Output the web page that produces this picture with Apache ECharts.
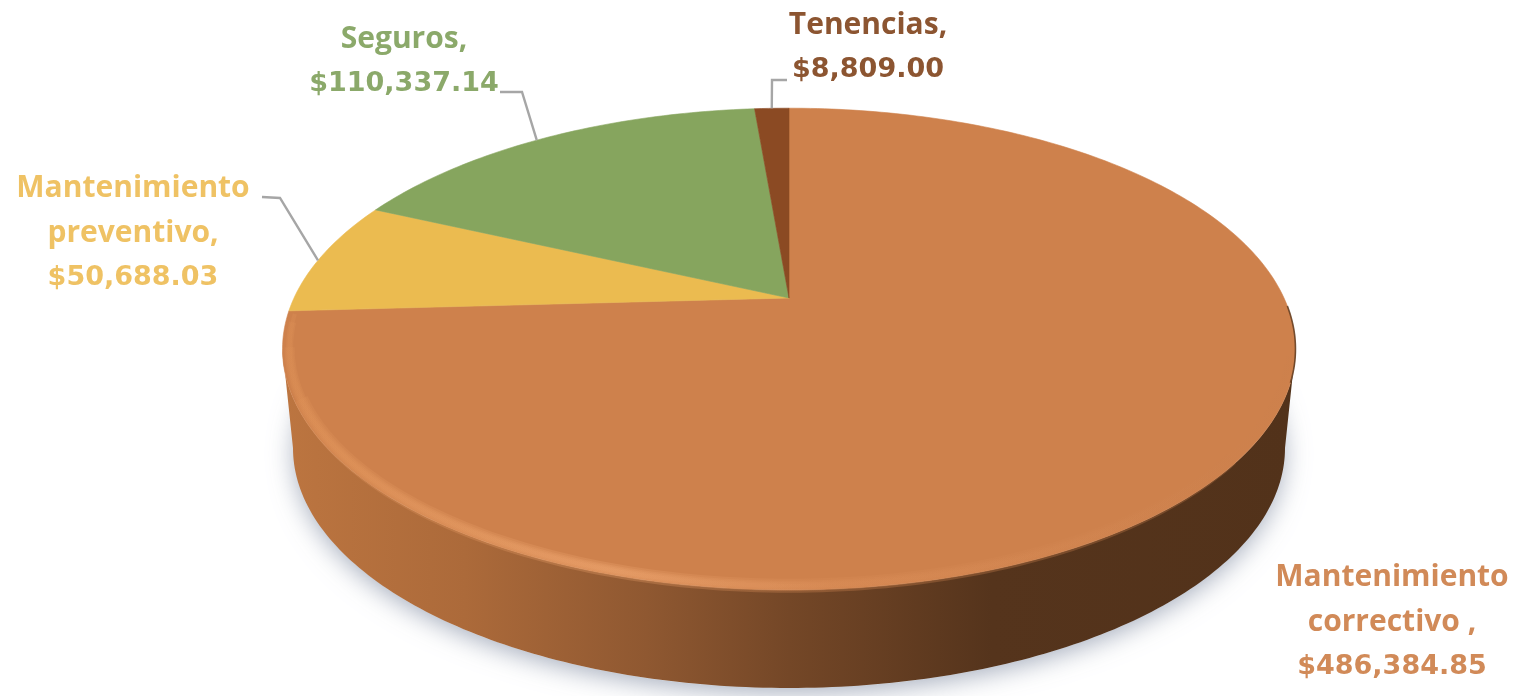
<!DOCTYPE html>
<html>
<head>
<meta charset="utf-8">
<style>
html,body{margin:0;padding:0;background:#fff}
#chart{width:1518px;height:696px;filter:blur(0.7px)}
</style>
<script src="https://cdn.jsdelivr.net/npm/echarts@6/dist/echarts.min.js"></script>
</head>
<body>
<div id="chart"></div>
<script>
// ---- data (clockwise from 12 o'clock) ----
const categories = ['Mantenimiento correctivo', 'Mantenimiento preventivo', 'Seguros', 'Tenencias'];
const amounts = [486384.85, 50688.03, 110337.14, 8809.00];
const labelNames = [
  ['Mantenimiento', 'correctivo ,'],
  ['Mantenimiento', 'preventivo,'],
  ['Seguros,'],
  ['Tenencias,']
];
const labelAmounts = ['$486,384.85', '$50,688.03', '$110,337.14', '$8,809.00'];
const sliceColors = ['#CE814C', '#EBBB50', '#86A55E', '#8B4A23'];
const labelColors = ['#D18A58', '#EFC264', '#8BA96A', '#8C5531'];

// ---- layout of the tilted disc ----
const apex = {x: 789, y: 298};
const persp = {A: 495, B: 230, k: 0.2117};
const lower = {x: 789, y: 448, a: 496, b: 240};
const labelPos = [[1392, 622], [133, 233], [404, 62], [868, 48]];
const elbows = [[[1265, 586]], [[262, 197], [280, 198]], [[500, 92], [522, 92]], [[787, 80], [772, 80]]];
const anchorShift = [0, -1, -1.5, 0];
const lowerAnchorAngle = 126;
const rad = Math.PI / 180;

function project(deg, inset) {
  const u = Math.sin(deg * rad), v = Math.cos(deg * rad), d = 1 + persp.k * v, s = inset || 1;
  return [apex.x + s * persp.A * u / d, apex.y - s * persp.B * v / d];
}
function arc(from, to, inset) {
  const pts = [], n = Math.max(2, Math.ceil(Math.abs(to - from)));
  for (let i = 0; i <= n; i++) pts.push(project(from + (to - from) * i / n, inset));
  return pts;
}
function lowerArc(from, to) {
  const pts = [], n = Math.ceil(Math.abs(to - from));
  for (let i = 0; i <= n; i++) {
    const t = (from + (to - from) * i / n) * rad;
    pts.push([lower.x + lower.a * Math.sin(t), lower.y - lower.b * Math.cos(t)]);
  }
  return pts;
}
function hGrad(stops) {
  return {type: 'linear', x: 0, y: 0, x2: 1, y2: 0,
    colorStops: stops.map(s => ({offset: s[0], color: s[1]}))};
}

const total = amounts.reduce((a, b) => a + b, 0);
const starts = [];
amounts.reduce((acc, v, i) => { starts[i] = acc; return acc + v / total * 360; }, 0);

function renderBody() {
  const wallPts = arc(102.2, 257.8).concat(lowerArc(270, 90));
  return {type: 'group', children: [
    {type: 'ellipse', shape: {cx: lower.x, cy: lower.y + 2, rx: lower.a - 2, ry: lower.b - 2},
      style: {fill: '#E6E9ED', shadowBlur: 26, shadowOffsetY: 4, shadowColor: 'rgba(140,150,170,0.8)'}},
    {type: 'polygon', shape: {points: wallPts},
      style: {fill: hGrad([[0, '#BC7540'], [0.18, '#AC6A3A'], [0.36, '#8F5831'], [0.5, '#744727'], [0.7, '#55341C'], [1, '#52321A']])}}
  ]};
}

function softBand(from, to, width, grad) {
  return {type: 'polyline', shape: {points: arc(from, to, 0.986)},
    style: {fill: null, lineWidth: width, stroke: grad, opacity: 0.3}};
}

function renderSlice(params, api) {
  const i = params.dataIndex;
  const sweep = api.value(0) / total * 360;
  const from = starts[i], to = from + sweep;
  const mid = (from + to) / 2;
  const children = [{
    type: 'polygon',
    shape: {points: [[apex.x, apex.y]].concat(arc(from, to))},
    style: {fill: sliceColors[i], stroke: sliceColors[i], lineWidth: 0.6}
  }];
  if (i === 0) {
    const rimGrad = hGrad([[0, '#DD9056'], [0.33, '#EBA26C'], [0.55, '#D98C56'], [1, '#CC804C']]);
    children.push(softBand(128, 246, 14, rimGrad));
    children.push(softBand(112, 258, 10, rimGrad));
    children.push(softBand(106, 264, 7, rimGrad));
    children.push(softBand(104, 266, 4, rimGrad));
    children.push({type: 'polyline', shape: {points: arc(92, 110, 1.0)},
      style: {fill: null, lineWidth: 1.6, stroke: '#5A371D', opacity: 0.8}});
  }
  const anchor = i === 0
    ? lowerArc(lowerAnchorAngle, lowerAnchorAngle)[0]
    : project(mid + anchorShift[i]);
  children.push({type: 'polyline', shape: {points: elbows[i].concat([anchor])},
    style: {fill: null, stroke: '#A6A6A6', lineWidth: 2.4}});
  const rich = {
    n: {font: 'bold 30px "Open Sans", sans-serif', lineHeight: 44.5, fill: labelColors[i]},
    v: {font: 'bold 27px "DejaVu Sans", sans-serif', lineHeight: 44.5, fill: labelColors[i]}
  };
  const text = labelNames[i].map(s => '{n|' + s + '}').concat('{v|' + labelAmounts[i] + '}').join('\n');
  children.push({type: 'text', style: {
    x: labelPos[i][0], y: labelPos[i][1], text, rich,
    align: 'center', verticalAlign: 'middle'
  }});
  return {type: 'group', children};
}

const chart = echarts.init(document.getElementById('chart'), null, {renderer: 'canvas'});
chart.setOption({
  animation: false,
  backgroundColor: '#ffffff',
  tooltip: {show: false},
  series: [
    {type: 'custom', coordinateSystem: 'none', silent: true, z: 1, data: [[total]], renderItem: renderBody},
    {type: 'custom', coordinateSystem: 'none', silent: true, z: 2,
      data: amounts.map((v, i) => ({name: categories[i], value: [v]})), renderItem: renderSlice}
  ]
});
</script>
</body>
</html>
